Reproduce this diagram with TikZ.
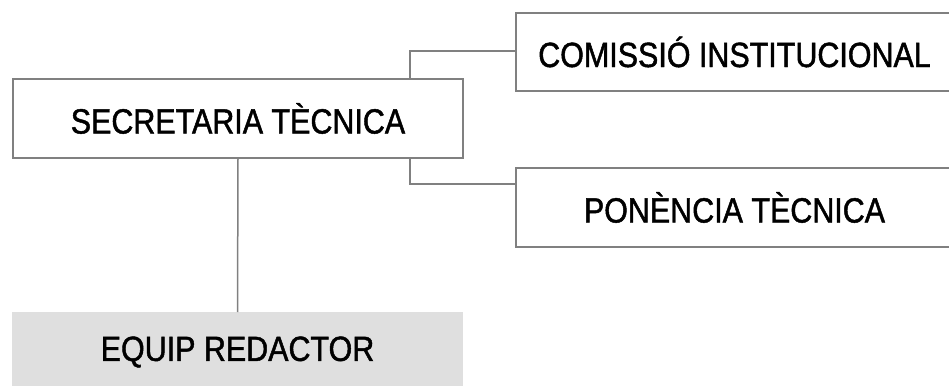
\documentclass[tikz,border=0pt]{standalone}
\usepackage{fontspec}
\setmainfont{Liberation Sans}[FakeStretch=0.87,FakeBold=1.3]
\definecolor{linegray}{HTML}{808080}
\definecolor{fillgray}{HTML}{DFDFDF}
\begin{document}
\begin{tikzpicture}[x=1pt,y=-1pt,
  box/.style={draw=linegray,line width=1.5pt,fill=white,inner sep=0pt,outer sep=0pt,font=\fontsize{35}{35}\selectfont},
  shadebox/.style={fill=fillgray,inner sep=0pt,outer sep=0pt,font=\fontsize{35}{35}\selectfont},
  conn/.style={draw=linegray,line width=1.5pt}]
\useasboundingbox (0,0) rectangle (949,385);
\clip (0,0) rectangle (949,385);
\node[box,minimum width=450pt,minimum height=79pt] (sec) at (238,118.5) {SECRETARIA TÈCNICA};
\node[box,minimum width=437pt,minimum height=78pt] (com) at (734.5,52) {COMISSIÓ INSTITUCIONAL};
\node[box,minimum width=437pt,minimum height=79pt] (pon) at (734.5,207.5) {PONÈNCIA TÈCNICA};
\node[shadebox,minimum width=451pt,minimum height=80pt] (eq) at (237.5,352) {EQUIP REDACTOR};
\coordinate (c1) at (410,51);
\coordinate (c2) at (410,184);
\draw[conn] (sec.north -| c1) -- (c1) -- (c1 -| com.west);
\draw[conn] (sec.south -| c2) -- (c2) -- (c2 -| pon.west);
\draw[conn] (sec.south) -- (eq.north);
\end{tikzpicture}
\end{document}
